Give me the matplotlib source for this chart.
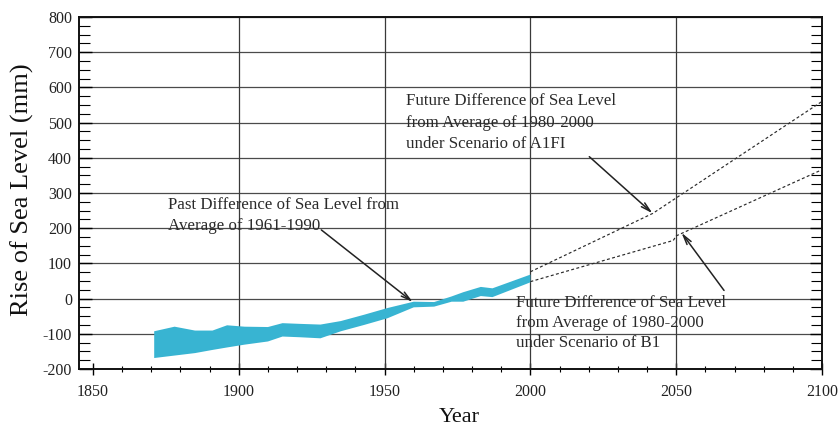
import matplotlib
matplotlib.use("Agg")
import matplotlib.pyplot as plt
from matplotlib.ticker import MultipleLocator

plt.rcParams['font.family'] = ['Liberation Serif', 'DejaVu Serif']
plt.rcParams['axes.unicode_minus'] = False

# observed sea level band (mm), relative to 1961-1990 mean
past_years = [1871, 1878, 1885, 1891, 1896, 1902, 1910, 1915, 1921, 1928,
              1935, 1943, 1951, 1960, 1967, 1973, 1977, 1983, 1987, 2000]
past_upper = [-93, -80, -91, -91, -76, -80, -81, -70, -72, -74,
              -64, -46, -27, -9, -10, 6, 18, 33, 29, 68]
past_lower = [-169, -162, -155, -146, -139, -131, -122, -108, -110, -113,
              -93, -75, -56, -25, -23, -9, -9, 7, 4, 46]

# projections relative to 1980-2000 mean
a1fi_years = [2000, 2042, 2100]
a1fi_level = [76, 242, 560]
b1_years = [2000, 2049, 2050, 2100]
b1_level = [48, 165, 178, 366]

grid_years = [1900, 1950, 2000, 2050]

label_past = "Past Difference of Sea Level from\nAverage of 1961-1990"
label_a1fi = "Future Difference of Sea Level\nfrom Average of 1980-2000\nunder Scenario of A1FI"
label_b1 = "Future Difference of Sea Level\nfrom Average of 1980-2000\nunder Scenario of B1"

fig = plt.figure(figsize=(8.4, 4.32), dpi=100)
ax = fig.add_axes([0.094, 0.146, 0.8846, 0.8148])

ax.set_xlim(1845.2, 2100)
ax.set_ylim(-200, 800)

# grid
ax.yaxis.grid(True, color='#4a4a4a', linewidth=0.9)
ax.vlines(grid_years, -200, 800, color='#3a3a3a', linewidth=0.9)
ax.set_axisbelow(True)

ax.fill(past_years + past_years[::-1], past_upper + past_lower[::-1],
        color='#38b4d2', linewidth=0, zorder=3)

dash = (0, (2.5, 2))
ax.plot(a1fi_years, a1fi_level, color='#2a2a2a', linewidth=0.85, linestyle=dash, zorder=3)
ax.plot(b1_years, b1_level, color='#2a2a2a', linewidth=0.85, linestyle=dash, zorder=3)

text_kw = dict(fontsize=12.2, color='#2a2a2a', va='center', ha='left', zorder=4)
ax.text(1875.7, 236, label_past, linespacing=1.35, **text_kw)
ax.text(1957.4, 500, label_a1fi, linespacing=1.42, **text_kw)
ax.text(1995.1, -70, label_b1, linespacing=1.35, **text_kw)

arrow = dict(arrowstyle='->,head_length=0.7,head_width=0.18', color='#222222',
             linewidth=1.1, shrinkA=0, shrinkB=0)
ax.annotate('', xy=(1959.7, -10), xytext=(1928.3, 195), arrowprops=arrow, zorder=5)
ax.annotate('', xy=(2041.9, 242), xytext=(2020.2, 403), arrowprops=arrow, zorder=5)
ax.annotate('', xy=(2051.8, 187), xytext=(2066.4, 23), arrowprops=arrow, zorder=5)

# axes, ticks and labels
ax.xaxis.set_major_locator(MultipleLocator(50))
ax.xaxis.set_minor_locator(MultipleLocator(10))
ax.yaxis.set_major_locator(MultipleLocator(100))
ax.yaxis.set_minor_locator(MultipleLocator(25))
ax.tick_params(axis='x', which='major', direction='inout', length=8, width=1.0,
               pad=7, labelsize=11.5, labelcolor='#222222', top=False)
ax.tick_params(axis='x', which='minor', direction='inout', length=5, width=0.8, top=False)
ax.tick_params(axis='y', which='major', direction='in', length=9, width=1.0,
               pad=5, labelsize=11.5, labelcolor='#222222', right=True)
ax.tick_params(axis='y', which='minor', direction='in', length=8, width=0.8, right=True)
for side in ax.spines.values():
    side.set_color('#111111')
    side.set_linewidth(1.4)

ax.set_ylabel("Rise of Sea Level (mm)", fontsize=19, color='#111111')
ax.yaxis.set_label_coords(-0.061, 0.51)
ax.set_xlabel("Year", fontsize=16, color='#111111')
ax.xaxis.set_label_coords(0.512, -0.112)

fig.savefig("out.png", dpi=100)
